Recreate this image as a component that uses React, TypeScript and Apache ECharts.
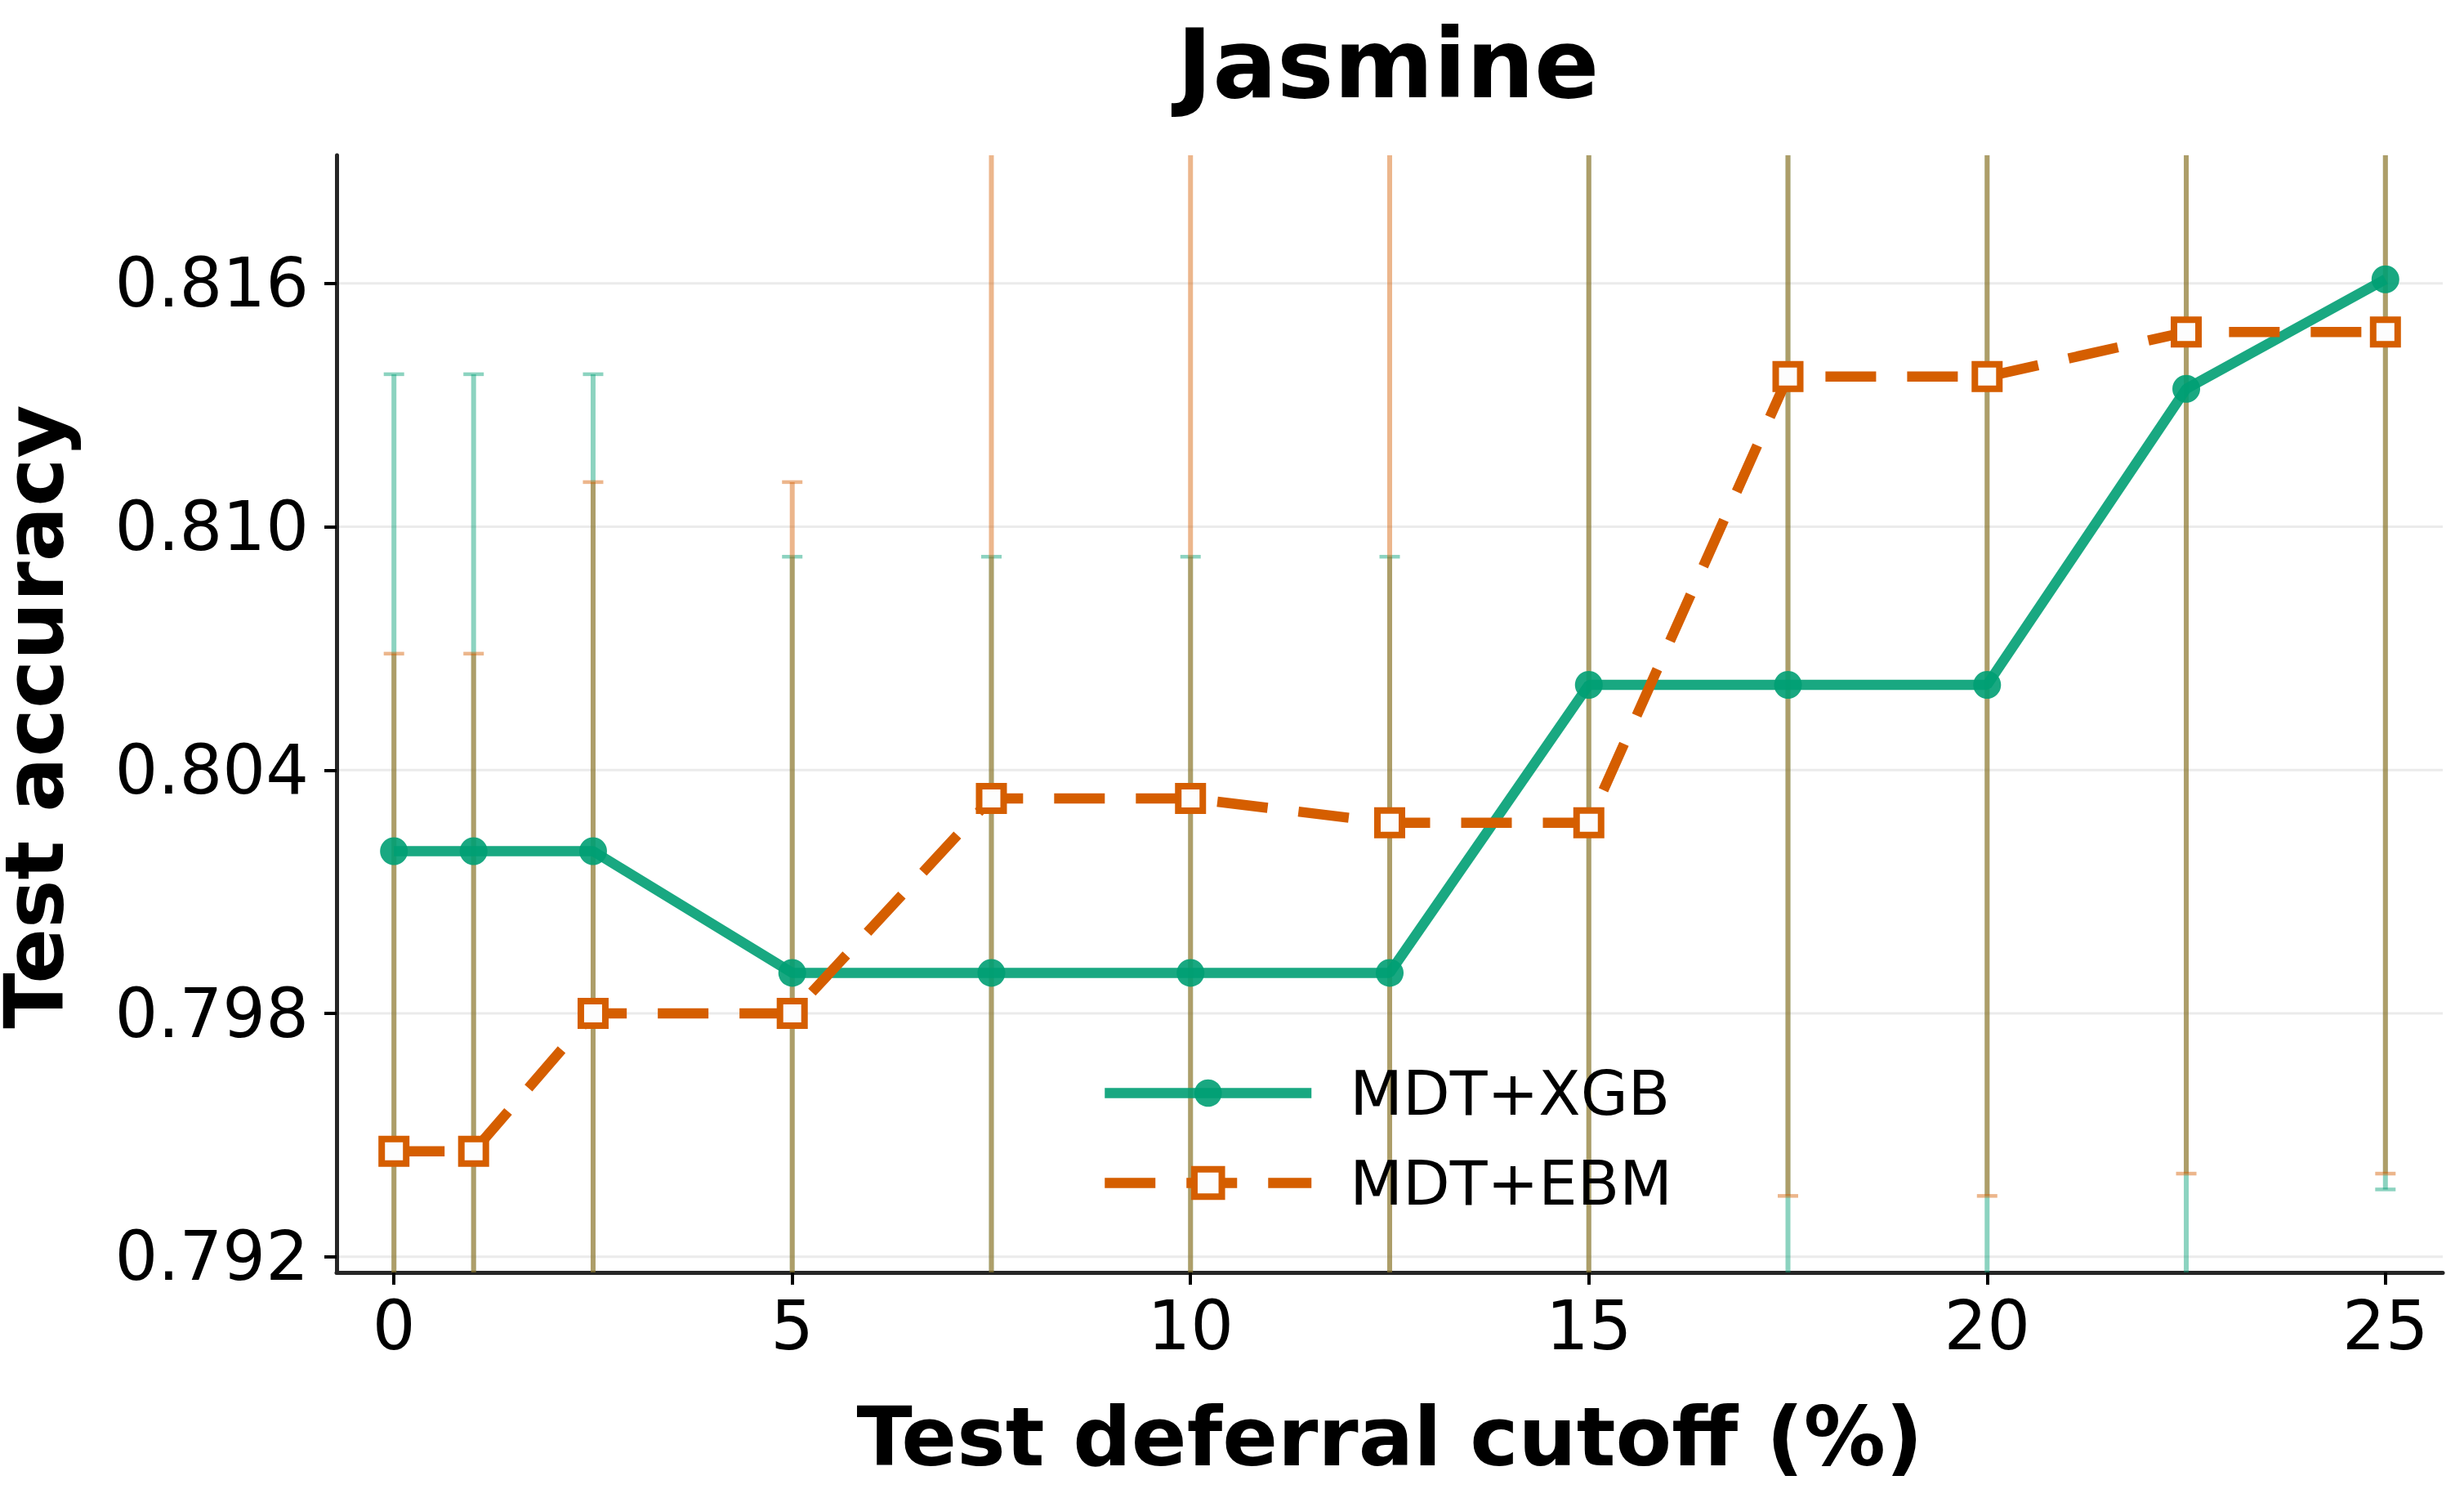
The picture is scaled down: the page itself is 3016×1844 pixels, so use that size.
import React, { useEffect, useRef } from "react";
import * as echarts from "echarts";

const X_VALUES = [0, 1, 2.5, 5, 7.5, 10, 12.5, 15, 17.5, 20, 22.5, 25];
const XGB_MEAN = [0.802, 0.802, 0.802, 0.799, 0.799, 0.799, 0.799, 0.8061, 0.8061, 0.8061, 0.8134, 0.8161];
const XGB_ERR = [0.01176, 0.01176, 0.01176, 0.01026, 0.01026, 0.01026, 0.01026, 0.016, 0.016, 0.016, 0.0228, 0.02244];
const EBM_MEAN = [0.7946, 0.7946, 0.798, 0.798, 0.8033, 0.8033, 0.8027, 0.8027, 0.8137, 0.8137, 0.8148, 0.8148];
const EBM_ERR = [0.01227, 0.01227, 0.0131, 0.0131, 0.017, 0.017, 0.017, 0.0175, 0.0202, 0.0202, 0.02075, 0.02075];
const Y_TICKS = [0.792, 0.798, 0.804, 0.81, 0.816];
const X_TICKS = [0, 5, 10, 15, 20, 25];

const GREEN = "#009E73";
const ORANGE = "#D55E00";
const FONT = "DejaVu Sans";

function errorRenderer(color: string) {
  return (params: any, api: any) => {
    const x = api.value(0);
    const lo = api.value(1);
    const hi = api.value(2);
    const cs = params.coordSys;
    const top = cs.y;
    const bottom = cs.y + cs.height;
    const pLo = api.coord([x, lo]);
    const pHi = api.coord([x, hi]);
    const clamp = (v: number) => Math.max(top, Math.min(bottom, v));
    const children: any[] = [
      {
        type: "line",
        shape: { x1: pLo[0], y1: clamp(pHi[1]), x2: pLo[0], y2: clamp(pLo[1]) },
        style: { stroke: color, lineWidth: 6 },
      },
    ];
    const cap = 12.5;
    [pHi, pLo].forEach((p) => {
      if (p[1] >= top && p[1] <= bottom) {
        children.push({
          type: "line",
          shape: { x1: p[0] - cap, y1: p[1], x2: p[0] + cap, y2: p[1] },
          style: { stroke: color, lineWidth: 4.5 },
        });
      }
    });
    return { type: "group", children };
  };
}

export default function App() {
  const ref = useRef<HTMLDivElement>(null);

  useEffect(() => {
    if (!ref.current) return;
    const chart = echarts.init(ref.current, null, { renderer: "svg" });

    const xgbLine = X_VALUES.map((x, i) => [x, XGB_MEAN[i]]);
    const ebmLine = X_VALUES.map((x, i) => [x, EBM_MEAN[i]]);
    const xgbErr = X_VALUES.map((x, i) => [x, XGB_MEAN[i] - XGB_ERR[i], XGB_MEAN[i] + XGB_ERR[i]]);
    const ebmErr = X_VALUES.map((x, i) => [x, EBM_MEAN[i] - EBM_ERR[i], EBM_MEAN[i] + EBM_ERR[i]]);
    const gridData = Y_TICKS.map((v) => [X_VALUES[0], v]);

    const option: any = {
      animation: false,
      backgroundColor: "#ffffff",
      grid: {
        left: 412,
        top: 190,
        width: 2578,
        height: 1367,
        containLabel: false,
        outerBoundsMode: "none",
      },
      graphic: [
        {
          type: "text",
          x: 1699,
          y: 78.5,
          style: {
            text: "Jasmine",
            fontSize: 117,
            fontWeight: "bold",
            fontFamily: FONT,
            fill: "#000",
            align: "center",
            verticalAlign: "middle",
            textAlign: "center",
            textVerticalAlign: "middle",
          },
        },
        {
          type: "text",
          x: 42,
          y: 877,
          rotation: Math.PI / 2,
          style: {
            text: "Test accuracy",
            fontSize: 100,
            fontWeight: "bold",
            fontFamily: FONT,
            fill: "#000",
            align: "center",
            verticalAlign: "middle",
            textAlign: "center",
            textVerticalAlign: "middle",
          },
        },
      ],
      legend: {
        data: [
          {
            name: "MDT+XGB",
            lineStyle: { color: GREEN, width: 12.5, opacity: 0.9 },
            itemStyle: { color: GREEN, opacity: 0.9 },
          },
          {
            name: "MDT+EBM",
            lineStyle: { color: ORANGE, width: 12.5, type: [62, 38] },
            itemStyle: { color: "#fdfdfd", borderColor: ORANGE, borderWidth: 8 },
          },
        ],
        orient: "vertical",
        left: 1346,
        top: 1300,
        padding: 0,
        itemWidth: 253,
        itemHeight: 42,
        itemGap: 35,
        textStyle: { fontFamily: FONT, fontSize: 75, color: "#000", padding: [0, 0, 0, 42] },
      },
      xAxis: {
        type: "value",
        min: -0.72,
        max: 25.72,
        name: "Test deferral cutoff (%)",
        nameLocation: "middle",
        nameGap: 151,
        nameTextStyle: { fontFamily: FONT, fontSize: 100, fontWeight: "bold", color: "#000" },
        axisLine: { show: true, onZero: false, lineStyle: { color: "#262626", width: 5 } },
        axisTick: { show: true, length: 15, customValues: X_TICKS, lineStyle: { color: "#000", width: 4 } },
        axisLabel: {
          show: true,
          customValues: X_TICKS,
          margin: 24,
          fontFamily: FONT,
          fontSize: 83,
          color: "#000",
          formatter: (v: number) => String(v),
        },
        splitLine: { show: false },
      },
      yAxis: {
        type: "value",
        min: 0.791613,
        max: 0.819158,
        axisLine: { show: true, onZero: false, lineStyle: { color: "#262626", width: 5 } },
        axisTick: { show: true, length: 15, customValues: Y_TICKS, lineStyle: { color: "#000", width: 4 } },
        axisLabel: {
          show: true,
          customValues: Y_TICKS,
          margin: 34,
          fontFamily: FONT,
          fontSize: 83,
          color: "#000",
          formatter: (v: number) => v.toFixed(3),
        },
        splitLine: { show: false },
      },
      series: [
        {
          name: "gridlines",
          type: "custom",
          silent: true,
          z: 0,
          data: gridData,
          renderItem: (params: any, api: any) => {
            const cs = params.coordSys;
            const p = api.coord([api.value(0), api.value(1)]);
            return {
              type: "line",
              shape: { x1: cs.x, y1: p[1], x2: cs.x + cs.width, y2: p[1] },
              style: { stroke: "#ebebeb", lineWidth: 3 },
            };
          },
        },
        {
          name: "xgb-err",
          type: "custom",
          silent: true,
          z: 1,
          data: xgbErr,
          renderItem: errorRenderer("rgba(0,158,115,0.45)"),
        },
        {
          name: "ebm-err",
          type: "custom",
          silent: true,
          z: 2,
          data: ebmErr,
          renderItem: errorRenderer("rgba(213,94,0,0.45)"),
        },
        {
          name: "MDT+XGB",
          type: "line",
          z: 3,
          data: xgbLine,
          symbol: "circle",
          symbolSize: 34,
          showSymbol: true,
          lineStyle: { color: GREEN, width: 12.5, opacity: 0.9 },
          itemStyle: { color: GREEN, opacity: 0.9 },
        },
        {
          name: "MDT+EBM",
          type: "line",
          z: 4,
          data: ebmLine,
          symbol: "rect",
          symbolSize: 30,
          showSymbol: true,
          lineStyle: { color: ORANGE, width: 12.5, type: [62, 38] },
          itemStyle: { color: "#fdfdfd", borderColor: ORANGE, borderWidth: 8 },
        },
      ],
    };

    chart.setOption(option);
    return () => chart.dispose();
  }, []);

  return (
    <div
      ref={ref}
      style={{ position: "absolute", left: 0, top: 0, width: 3016, height: 1844, background: "#fff" }}
    />
  );
}
